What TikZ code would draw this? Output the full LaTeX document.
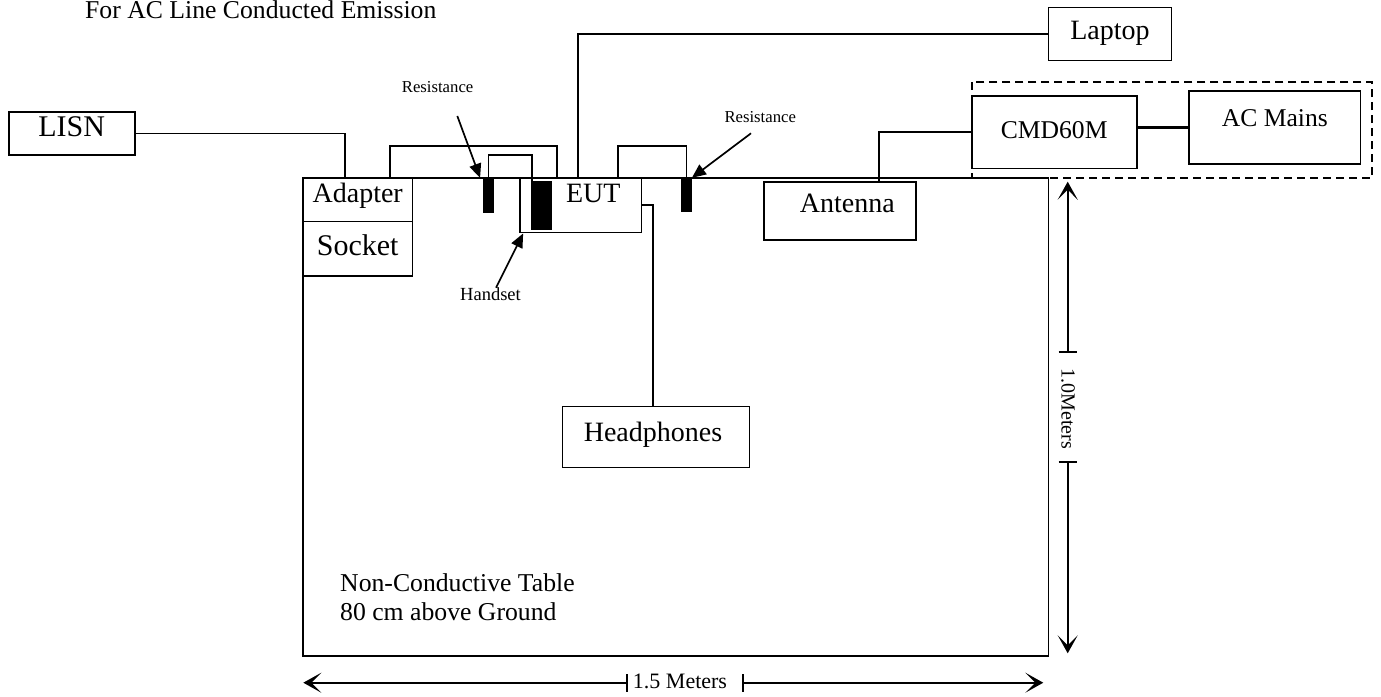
\documentclass[tikz,border=0pt]{standalone}
\usepackage{fontspec}
\setmainfont{Liberation Serif}
\usepackage{tikz}
\usetikzlibrary{positioning,arrows.meta,calc}
\newcommand{\fsz}[1]{\fontsize{#1}{#1}\selectfont}
\tikzset{
  box/.style={draw,rectangle,inner sep=0pt,line width=1.6pt,text height=20pt},
  block/.style={fill=black,draw=none,inner sep=0pt},
  big/.style={font=\fsz{28}},
  mid/.style={font=\fsz{25.7}},
  small/.style={font=\fsz{16.7}},
  wire/.style={line width=1.7pt},
  ptr/.style={-{Triangle[length=14pt,width=12pt]},line width=1.7pt},
  dim/.style={-{Stealth[length=18pt,width=20pt,inset=10pt]},line width=1.8pt},
}

\begin{document}
\begin{tikzpicture}[x=1pt,y=-1pt]
\useasboundingbox (0,0) rectangle (1381,696);

% title
\node[mid,anchor=base west,inner sep=0pt] (title) at (85,19) {For AC Line Conducted Emission};

% table
\node[box,line width=1.9pt,minimum width=745.5pt,minimum height=478pt] (table) at (675.75,417) {};
\node[mid,anchor=base west,inner sep=0pt] (tbl1) at (340,591.7) {Non-Conductive Table};
\node[mid,anchor=base west,inner sep=0pt] (tbl2) at (340,620) {80 cm above Ground};

% boxes
\node[box,font=\fsz{30},minimum width=126pt,minimum height=43pt,text depth=15pt] (lisn) at (71.7,133.5) {LISN};
\node[box,big,minimum width=109.3pt,minimum height=43.3pt,text depth=14pt] (adapter) at (357.7,199.7) {Adapter};
\node[box,font=\fsz{30},minimum width=109.3pt,minimum height=54.7pt,text depth=7.4pt] (socket) at (357.7,248.7) {Socket};
\node[box,big,minimum width=121.7pt,minimum height=54.7pt,text depth=25pt] (eut) at (580.8,205.3) {\hspace*{25pt}EUT};
\node[box,big,minimum width=151.7pt,minimum height=58.3pt,text depth=17.8pt] (antenna) at (839.9,210.9) {\hspace*{15pt}Antenna};
\node[box,big,minimum width=123.3pt,minimum height=53.3pt,text depth=10pt] (laptop) at (1110,34) {Laptop};
\node[box,big,minimum width=186.7pt,minimum height=60.7pt,text depth=10.6pt] (phones) at (656,437) {Headphones\hspace*{6pt}};
\node[box,font=\fsz{25.6},minimum width=165pt,minimum height=72.3pt,text depth=7.8pt] (cmd) at (1054.2,132.2) {CMD60M};
\node[box,font=\fsz{25.6},minimum width=171.7pt,minimum height=73pt,text depth=23pt] (mains) at (1274.8,127.5) {AC Mains};
\node[box,dash pattern=on 8pt off 5pt,minimum width=400pt,minimum height=96.3pt] (group) at (1172,129.85) {};

% resistances and handset
\node[block,minimum width=10.4pt,minimum height=34.7pt] (res1) at (488.5,195.35) {};
\node[block,minimum width=10.7pt,minimum height=34.3pt] (res2) at (686.35,195.15) {};
\node[block,minimum width=21pt,minimum height=49.3pt] (hand) at (541.2,205.35) {};

% wiring
\draw[wire] (lisn.east) -| ([xshift=-12.7pt]adapter.north);
\draw[wire] ([xshift=32.3pt]adapter.north) -- ++(0,-31.3) -| ([xshift=-24.1pt]eut.north);
\draw[wire] (res1.north) -- ++(0,-22.7) -| ([xshift=-9pt]hand.north);
\draw[wire] (laptop.west) -| ([xshift=-3.1pt]eut.north);
\draw[wire] ([xshift=37.5pt]eut.north) -- ++(0,-31.3) -| (res2.north);
\draw[wire] (eut.east) -| ([xshift=-3pt]phones.north);
\draw[wire] (cmd.west) -| ([xshift=39.4pt]antenna.north);
\draw[line width=3pt] (mains.west -| cmd.east) -- (mains.west);

% pointers
\node[small,anchor=base west,inner sep=0pt] (rlbl1) at (401.7,92.7) {Resistance};
\node[small,anchor=base west,inner sep=0pt] (rlbl2) at (724.3,122.7) {Resistance};
\node[font=\fsz{18.5},anchor=base west,inner sep=0pt] (hlbl) at (460,300.7) {Handset};
\coordinate (r1tail) at (457.3,116);
\coordinate (r2tail) at (751,133.3);
\coordinate (htail) at (496,287.7);
\draw[ptr] (r1tail) -- ([xshift=-3pt]res1.north west);
\draw[ptr] (r2tail) -- (res2.north east);
\draw[ptr] (htail) -- ([xshift=4pt]eut.south west);

% dimensions
\coordinate (vtop) at (1067.7,181.7);
\coordinate (vbot) at (1067.7,653.3);
\coordinate (vt1) at (1067.7,351.7);
\coordinate (vt2) at (1067.7,462);
\node[font=\fsz{20},rotate=-90,inner sep=0pt] (vlbl) at (1068,409) {1.0Meters};
\draw[dim] (vt1) -- (vtop);
\draw[dim] (vt2) -- (vbot);
\draw[wire] ([xshift=-9pt]vt1) -- ([xshift=9pt]vt1);
\draw[wire] ([xshift=-9pt]vt2) -- ([xshift=9pt]vt2);

\coordinate (hleft) at (303.3,682.7);
\coordinate (hright) at (1043.3,682.7);
\coordinate (ht1) at (627.3,682.7);
\coordinate (ht2) at (743.3,682.7);
\node[font=\fsz{22},anchor=base,inner sep=0pt] (hlbl2) at (680,688.3) {1.5 Meters};
\draw[dim] (ht1) -- (hleft);
\draw[dim] (ht2) -- (hright);
\draw[wire] ([yshift=-9pt]ht1) -- ([yshift=9pt]ht1);
\draw[wire] ([yshift=-9pt]ht2) -- ([yshift=9pt]ht2);
\end{tikzpicture}
\end{document}
